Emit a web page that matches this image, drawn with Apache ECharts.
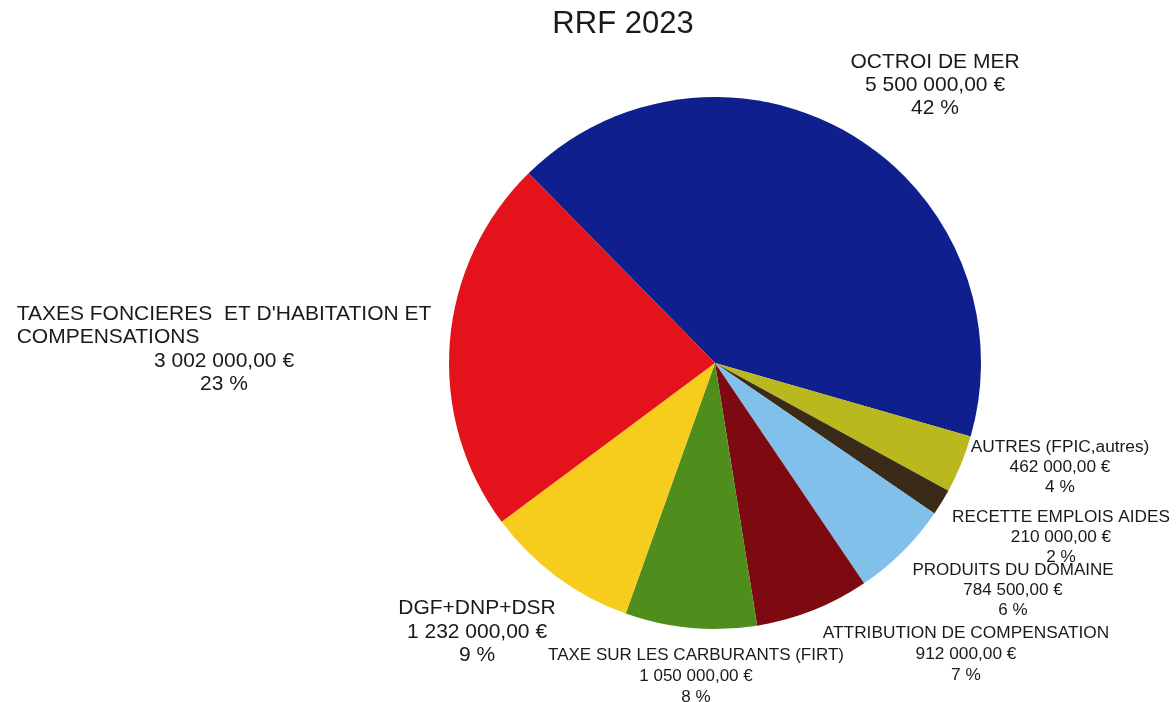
<!DOCTYPE html>
<html>
<head>
<meta charset="utf-8">
<title>RRF 2023</title>
<script src="https://cdn.jsdelivr.net/npm/echarts@6/dist/echarts.min.js"></script>
<style>
  html, body { margin: 0; padding: 0; background: #ffffff; }
  #chart { width: 1176px; height: 702px; }
</style>
</head>
<body>
<div id="chart"></div>
<script>
// Data, in the order the slices run clockwise from the red/blue edge
var categories = [
  'OCTROI DE MER',
  'AUTRES (FPIC,autres)',
  'RECETTE EMPLOIS AIDES',
  'PRODUITS DU DOMAINE',
  'ATTRIBUTION DE COMPENSATION',
  'TAXE SUR LES CARBURANTS (FIRT)',
  'DGF+DNP+DSR',
  "TAXES FONCIERES  ET D'HABITATION ET\nCOMPENSATIONS"
];
var amounts = [5500000, 462000, 210000, 784500, 912000, 1050000, 1232000, 3002000];

var colors = ['#0f1f8e', '#b9b81d', '#3a2b19', '#80c0ea', '#7c0a10', '#4f8e1c', '#f6cd1c', '#e3121b'];

// label placement (block centre) and size per slice
var labelPos = [
  [935, 85], [1060, 467], [1061, 537], [1013, 590],
  [966, 654], [696, 676], [477, 632], [224, 349]
];
var labelFont = [21, 17.3, 17.2, 17, 17.3, 17, 21, 21];
var labelLine = [23, 20, 20, 20, 21, 21, 23.5, 23.5];

function euros(v) {
  var s = String(v).replace(/\B(?=(\d{3})+(?!\d))/g, ' ');
  return s + ',00 €';
}

var chart = echarts.init(document.getElementById('chart'));

chart.setOption({
  backgroundColor: '#ffffff',
  animation: false,
  title: {
    text: 'RRF 2023',
    left: 618,
    top: 4,
    textAlign: 'center',
    textStyle: {
      fontFamily: 'Liberation Sans',
      fontSize: 31,
      fontWeight: 'normal',
      color: '#1a1a1a'
    }
  },
  series: [
    {
      type: 'pie',
      center: [715, 363],
      radius: 266,
      startAngle: 134.5,
      clockwise: true,
      avoidLabelOverlap: false,
      color: colors,
      itemStyle: { borderWidth: 0 },
      labelLine: { show: false },
      label: {
        show: true,
        position: 'outside',
        fontFamily: 'Liberation Sans',
        color: '#1a1a1a',
        formatter: function (p) {
          var tail = euros(p.value) + '\n' + Math.round(p.percent) + ' %';
          if (p.dataIndex === 7) {
            return '{l|' + p.name + '}\n{c|' + euros(p.value) + '}\n{c|' + Math.round(p.percent) + ' %}';
          }
          return p.name + '\n' + tail;
        },
        rich: {
          l: { align: 'left', fontSize: 21, lineHeight: 23.5, fontFamily: 'Liberation Sans', color: '#1a1a1a' },
          c: { align: 'center', fontSize: 21, lineHeight: 23.5, fontFamily: 'Liberation Sans', color: '#1a1a1a' }
        }
      },
      labelLayout: function (params) {
        var i = params.dataIndex;
        return {
          x: labelPos[i][0],
          y: labelPos[i][1],
          align: 'center',
          verticalAlign: 'middle'
        };
      },
      data: categories.map(function (name, i) {
        return {
          name: name,
          value: amounts[i],
          label: { fontSize: labelFont[i], lineHeight: labelLine[i] }
        };
      })
    }
  ]
});
</script>
</body>
</html>
